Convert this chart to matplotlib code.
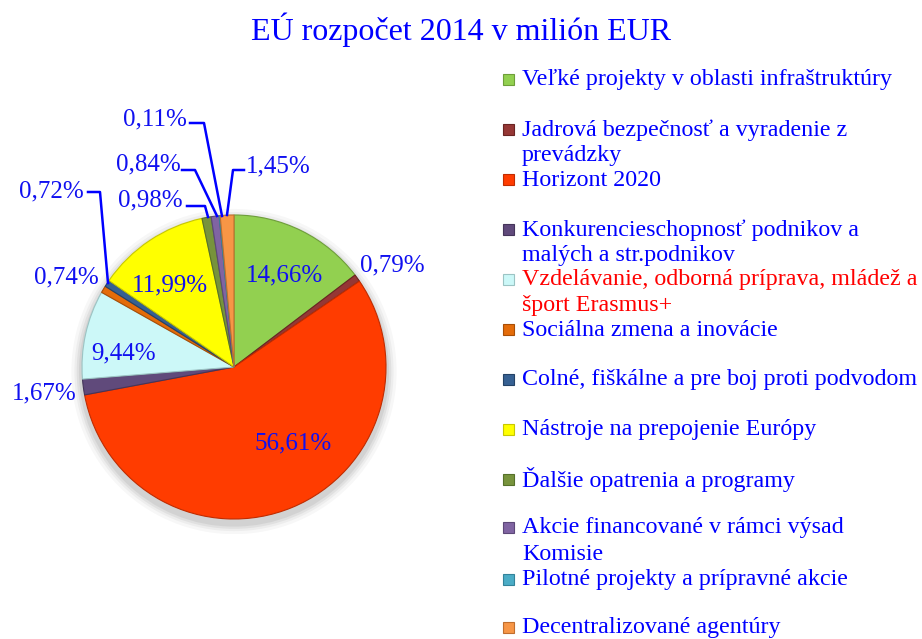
import matplotlib
matplotlib.use("Agg")
import matplotlib.pyplot as plt
from matplotlib.patches import Rectangle, Circle
from matplotlib.lines import Line2D

plt.rcParams['font.family'] = ['Liberation Serif', 'DejaVu Serif']

W, H = 922, 639

title = "EÚ rozpočet 2014 v milión EUR"
categories = [
    "Veľké projekty v oblasti infraštruktúry",
    "Jadrová bezpečnosť a vyradenie z\nprevádzky",
    "Horizont 2020",
    "Konkurencieschopnosť podnikov a\nmalých a str.podnikov",
    "Vzdelávanie, odborná príprava, mládež a\nšport Erasmus+",
    "Sociálna zmena a inovácie",
    "Colné, fiškálne a pre boj proti podvodom",
    "Nástroje na prepojenie Európy",
    "Ďalšie opatrenia a programy",
    "Akcie financované v rámci výsad\nKomisie",
    "Pilotné projekty a prípravné akcie",
    "Decentralizované agentúry",
]
values = [14.66, 0.79, 56.61, 1.67, 9.44, 0.74, 0.72, 11.99, 0.98, 0.84, 0.11, 1.45]
colors = ["#92D050", "#953735", "#FF3C00", "#604A7B", "#CCF8F8", "#E46C0A",
          "#366092", "#FFFF00", "#77933C", "#8064A2", "#4BACC6", "#F79646"]
edge_colors = ["#6E9E3A", "#6A2422", "#C02C00", "#45355A", "#9CC4C4", "#A84E06",
               "#244266", "#C8C800", "#56702A", "#5C4878", "#33839A", "#C06E2E"]
legend_text_colors = ["#0000FF"] * 4 + ["#FF0000"] + ["#0000FF"] * 7

# label positions (pixels) and optional leader polylines (pixels)
label_pos = [(284, 275), (392, 265), (293, 443), (44, 393), (124, 353), (66, 277),
             (51, 191), (170, 285), (150, 200), (148, 164), (155, 119), (278, 166)]
leaders = {
    6: [(88, 192), (100, 192), (108, 283)],
    8: [(187, 206), (205, 206), (208, 217)],
    9: [(182, 170), (195, 170), (217, 216)],
    10: [(190, 123), (204, 123), (222, 216)],
    11: [(244, 170), (233, 170), (227, 215)],
}

fig = plt.figure(figsize=(W / 100, H / 100), dpi=100)
fig.patch.set_facecolor("white")

def fx(px):
    return px / W

def fy(py):
    return 1 - py / H

# pie
cx, cy, r = 234, 367, 152
ax = fig.add_axes([fx(cx - 1.1 * r), fy(cy + 1.1 * r), 2.2 * r / W, 2.2 * r / H])
# soft shadow
for dr, a in [(0.07, 0.03), (0.05, 0.04), (0.035, 0.05), (0.02, 0.06)]:
    ax.add_patch(Circle((0.0, -0.03), 1 + dr, color="#000000", alpha=a, lw=0, zorder=0))
wedges, _ = ax.pie(values, colors=colors, startangle=90, counterclock=False, radius=1,
                   wedgeprops=dict(linewidth=0.8))
for w, ec in zip(wedges, edge_colors):
    w.set_edgecolor(ec)
    w.set_zorder(2)
ax.set_xlim(-1.1, 1.1)
ax.set_ylim(-1.1, 1.1)
ax.set_position([fx(cx - 1.1 * r), fy(cy + 1.1 * r), 2.2 * r / W, 2.2 * r / H])
ax.axis("off")

# value labels
for i, v in enumerate(values):
    px, py = label_pos[i]
    txt = f"{v:.2f}".replace(".", ",") + "%"
    fig.text(fx(px), fy(py), txt, ha="center", va="center", fontsize=18,
             color="#1010F0")

for i, pts in leaders.items():
    xs = [fx(p[0]) for p in pts]
    ys = [fy(p[1]) for p in pts]
    fig.add_artist(Line2D(xs, ys, color="#0000FF", lw=1.8, transform=fig.transFigure))

# title
fig.text(fx(461), fy(30), title, ha="center", va="center", fontsize=23, color="#0000FF")

# legend
entry_y = [80, 130, 180, 230, 280, 330, 380, 430, 480, 528, 580, 628]
for i, lab in enumerate(categories):
    y0 = entry_y[i]
    fig.add_artist(Rectangle((fx(503), fy(y0 + 5)), 11 / W, 11 / H, transform=fig.transFigure,
                             facecolor=colors[i], edgecolor=edge_colors[i], lw=0.8))
    for k, line in enumerate(lab.split("\n")):
        fig.text(fx(522), fy(y0 + k * 26), line, ha="left", va="center", fontsize=17.3,
                 color=legend_text_colors[i])

fig.savefig("out.png", dpi=100)
